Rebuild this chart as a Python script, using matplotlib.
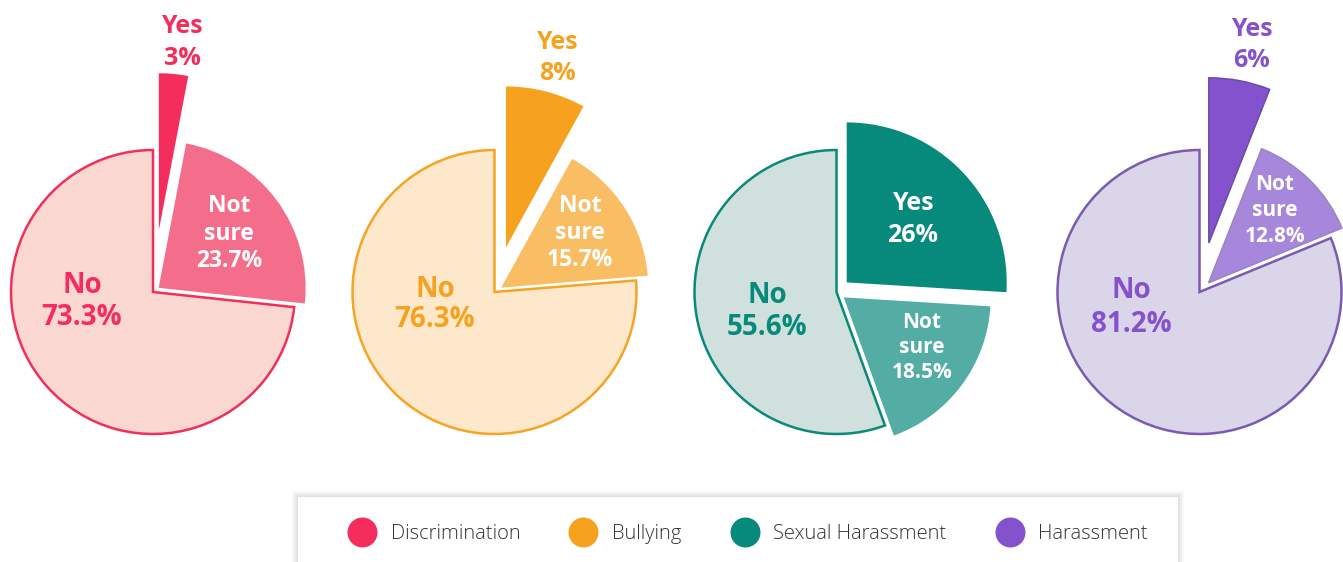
import matplotlib.pyplot as plt
from matplotlib.lines import Line2D
from matplotlib.patches import Rectangle

plt.rcParams['font.family'] = ['Open Sans', 'DejaVu Sans']

topics = ["Discrimination", "Bullying", "Sexual Harassment", "Harassment"]
answers = ["Yes", "Not sure", "No"]
discrimination = [3, 23.7, 73.3]
bullying = [8, 15.7, 76.3]
sexual_harassment = [26, 18.5, 55.6]
harassment = [6, 12.8, 81.2]
shares = [discrimination, bullying, sexual_harassment, harassment]

main_colors = ["#F42D5C", "#F7A21F", "#07897B", "#8452CC"]
mid_colors = ["#F46E8C", "#F9BE63", "#53ADA5", "#A687DB"]
light_colors = ["#FBD7D2", "#FEE8CB", "#CFE0DD", "#DAD5E9"]
edge_colors = ["#F0305A", "#F5A424", "#0A897B", "#7A5BB0"]

W, H = 1343, 562
R = 142
centers = [(153, 292), (494.5, 292), (836.5, 292), (1199.5, 292)]
# (explode, radius) for the Yes and Not sure slices
yes_geom = [(62, 157), (46, 161), (14, 160), (50, 165)]
ns_geom = [(7, 147), (8, 147), (9, 147), (13, 144)]

# label layout per slice: x, first baseline, line step, font size
label_pos = [
    [(182, 33, 32, 18), (229, 212, 27.5, 16.5), (82, 293, 32, 20)],
    [(557, 49, 31, 18), (580, 212, 27, 16.5), (435, 297, 30, 20)],
    [(913, 210, 32.5, 18), (922, 328, 25, 15), (767, 303, 32, 20)],
    [(1252, 36, 31, 18), (1275, 190, 26, 15), (1131, 298, 34, 20)],
]
yes_inside = [False, False, True, False]


def fmt(v):
    return f"{v:g}%"


fig = plt.figure(figsize=(W / 100, H / 100), dpi=100)
ax = fig.add_axes([0, 0, 1, 1])

for i, vals in enumerate(shares):
    cx, cy = centers[i]
    wedges, _ = ax.pie(vals, center=(cx, H - cy), radius=R, startangle=90,
                       counterclock=False,
                       explode=[yes_geom[i][0], ns_geom[i][0], 0],
                       colors=[main_colors[i], mid_colors[i], light_colors[i]],
                       wedgeprops=dict(linewidth=0))
    wedges[0].set_radius(yes_geom[i][1])
    wedges[1].set_radius(ns_geom[i][1])
    wedges[2].set_edgecolor(edge_colors[i])
    wedges[2].set_linewidth(1.8)
    if i == 3:
        wedges[0].set_edgecolor("#6D4DA8")
        wedges[0].set_linewidth(1.2)
        wedges[1].set_edgecolor("#9A86C2")
        wedges[1].set_linewidth(1.2)

    for j, ans in enumerate(answers):
        x, y0, step, size = label_pos[i][j]
        lines = ans.split() + [fmt(vals[j])]
        if j == 1 or (j == 0 and yes_inside[i]):
            col = "white"
        else:
            col = main_colors[i]
        for k, line in enumerate(lines):
            ax.text(x, H - (y0 + k * step), line, ha="center", va="baseline",
                    fontsize=size, fontweight="bold", color=col)

# legend panel with a soft shadow
x0, top, x1 = 298, 497, 1178
for k in range(6, 0, -1):
    ax.add_patch(Rectangle((x0 - k, -30), x1 - x0 + 2 * k, H - top + 30 + k,
                           facecolor="black", alpha=0.02, linewidth=0))
ax.add_patch(Rectangle((x0, -30), x1 - x0, H - top + 30,
                       facecolor="white", linewidth=0))

ax.set_xlim(0, W)
ax.set_ylim(0, H)
ax.set_aspect("equal")
ax.axis("off")

handles = [Line2D([], [], marker="o", linestyle="", markersize=21.6,
                  markerfacecolor=c, markeredgewidth=0) for c in main_colors]
leg = fig.legend(handles, topics, loc="center left",
                 bbox_to_anchor=(347 / W, 1 - 534 / H), ncol=4, frameon=False,
                 borderpad=0, borderaxespad=0, handlelength=1.49,
                 handletextpad=0.68, columnspacing=2.39, fontsize=14.5,
                 labelcolor="#333333")
for t in leg.get_texts():
    t.set_fontweight("light")

fig.savefig("out.png", dpi=100, facecolor="white")
